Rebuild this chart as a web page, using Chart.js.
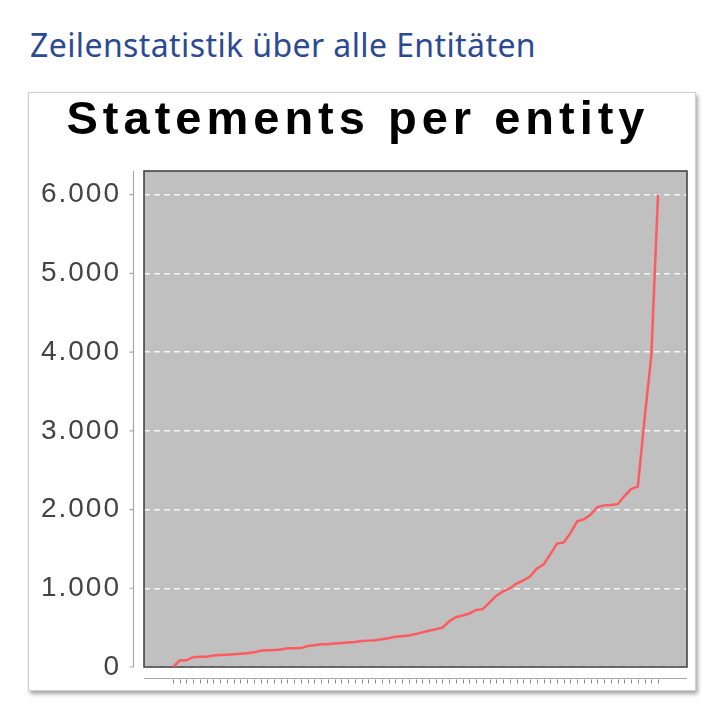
<!DOCTYPE html>
<html>
<head>
<meta charset="utf-8">
<script src="https://cdn.jsdelivr.net/npm/chart.js@4.4.1/dist/chart.umd.min.js"></script>
<style>
  html, body { margin: 0; padding: 0; background: #fff; }
  #hdr { position: absolute; left: 30px; top: 23px; font-family: 'Noto Sans', sans-serif; font-size: 32px; letter-spacing: 0.4px; color: #2b4a94; white-space: nowrap; }
  #card { position: absolute; left: 28px; top: 92px; width: 666px; height: 597px; background: #fff; border: 1px solid #cfcfcf; box-shadow: 2px 3px 4px rgba(0,0,0,0.35); }
  #c { display: block; }
</style>
</head>
<body>
<div id="hdr">Zeilenstatistik über alle Entitäten</div>
<div id="card"><canvas id="c" width="666" height="597" style="width:666px;height:597px"></canvas></div>
<script>
// ---- data ----
const pageTitle = 'Zeilenstatistik über alle Entitäten';
const chartTitle = 'Statements per entity';
const entityRanks = Array.from({ length: 73 }, (_, i) => i);
const statementCounts = [
  0, 82, 85, 125, 130, 130, 145, 153, 157, 162,
  167, 176, 186, 205, 213, 217, 223, 237, 237, 240,
  266, 277, 288, 290, 297, 305, 311, 318, 330, 335,
  340, 352, 365, 385, 392, 400, 418, 440, 460, 480,
  500, 580, 632, 655, 680, 725, 735, 820, 905, 960,
  1000, 1060, 1100, 1150, 1250, 1300, 1430, 1567, 1582, 1700,
  1850, 1876, 1935, 2030, 2053, 2058, 2068, 2170, 2260, 2290,
  3150, 3950, 6000
];
const yTickValues = [0, 1000, 2000, 3000, 4000, 5000, 6000];
const yTickLabels = ['0', '1.000', '2.000', '3.000', '4.000', '5.000', '6.000'];

// ---- styling plugin: plot background, frame, detached axes, letter spacing ----
const decor = {
  id: 'decor',
  beforeDraw(chart) {
    const { ctx, chartArea: a } = chart;
    ctx.save();
    ctx.fillStyle = '#c0c0c0';
    ctx.fillRect(a.left, a.top, a.right - a.left, a.bottom - a.top);
    ctx.restore();
    ctx.letterSpacing = '5px';
  },
  beforeDatasetsDraw(chart) {
    const { ctx, chartArea: a, scales } = chart;
    ctx.letterSpacing = '0px';
    ctx.save();
    // frame
    ctx.strokeStyle = '#3a3a3a';
    ctx.lineWidth = 1.5;
    ctx.strokeRect(a.left, a.top, a.right - a.left, a.bottom - a.top);
    // detached y axis
    const yx = a.left - 10.5;
    ctx.strokeStyle = '#a8a8a8';
    ctx.lineWidth = 1.2;
    ctx.beginPath();
    ctx.moveTo(yx, a.top);
    ctx.lineTo(yx, a.bottom);
    scales.y.ticks.forEach(t => {
      const py = scales.y.getPixelForValue(t.value);
      ctx.moveTo(yx - 4, py);
      ctx.lineTo(yx, py);
    });
    ctx.stroke();
    // detached x axis
    const xy = a.bottom + 11.5;
    ctx.beginPath();
    ctx.moveTo(a.left, xy);
    ctx.lineTo(a.right, xy);
    ctx.stroke();
    ctx.strokeStyle = '#8a8a8a';
    ctx.lineWidth = 1;
    ctx.beginPath();
    entityRanks.forEach(r => {
      const px = Math.round(scales.x.getPixelForValue(r)) + 0.5;
      ctx.moveTo(px, xy + 1);
      ctx.lineTo(px, xy + 5);
    });
    ctx.stroke();
    ctx.restore();
  },
  afterDatasetsDraw(chart) {
    chart.ctx.letterSpacing = '2px';
  },
  afterDraw(chart) {
    chart.ctx.letterSpacing = '0px';
  }
};

new Chart(document.getElementById('c'), {
  type: 'line',
  data: {
    datasets: [{
      label: chartTitle,
      data: entityRanks.map((r, i) => ({ x: r, y: statementCounts[i] })),
      borderColor: '#ff5a60',
      borderWidth: 2.5,
      pointRadius: 0,
      tension: 0,
      fill: false
    }]
  },
  options: {
    responsive: false,
    animation: false,
    devicePixelRatio: 1,
    layout: { padding: { top: 0, left: 0, right: 8, bottom: 23 } },
    plugins: {
      legend: { display: false },
      tooltip: { enabled: false },
      title: {
        display: true,
        text: chartTitle,
        color: '#000',
        font: { family: "'Liberation Sans', Arial, sans-serif", size: 47, weight: 'bold' },
        padding: { top: 0, bottom: 21.6 }
      }
    },
    scales: {
      x: {
        type: 'linear',
        display: false,
        min: -4.3,
        max: 76.3
      },
      y: {
        type: 'linear',
        min: 0,
        max: 6300,
        afterFit(s) { s.width = 115; },
        afterBuildTicks(s) { s.ticks = yTickValues.map(v => ({ value: v })); },
        grid: {
          color: 'rgba(255,255,255,0.85)',
          lineWidth: 1.5,
          drawTicks: true,
          tickLength: 21,
          tickColor: 'rgba(0,0,0,0)'
        },
        border: { display: false, dash: [6, 4] },
        ticks: {
          z: 1,
          padding: 2,
          color: '#444',
          font: { family: "'Liberation Sans', Arial, sans-serif", size: 28 },
          callback(v) { const k = yTickValues.indexOf(v); return k >= 0 ? yTickLabels[k] : ''; }
        }
      }
    }
  },
  plugins: [decor]
});
</script>
</body>
</html>
